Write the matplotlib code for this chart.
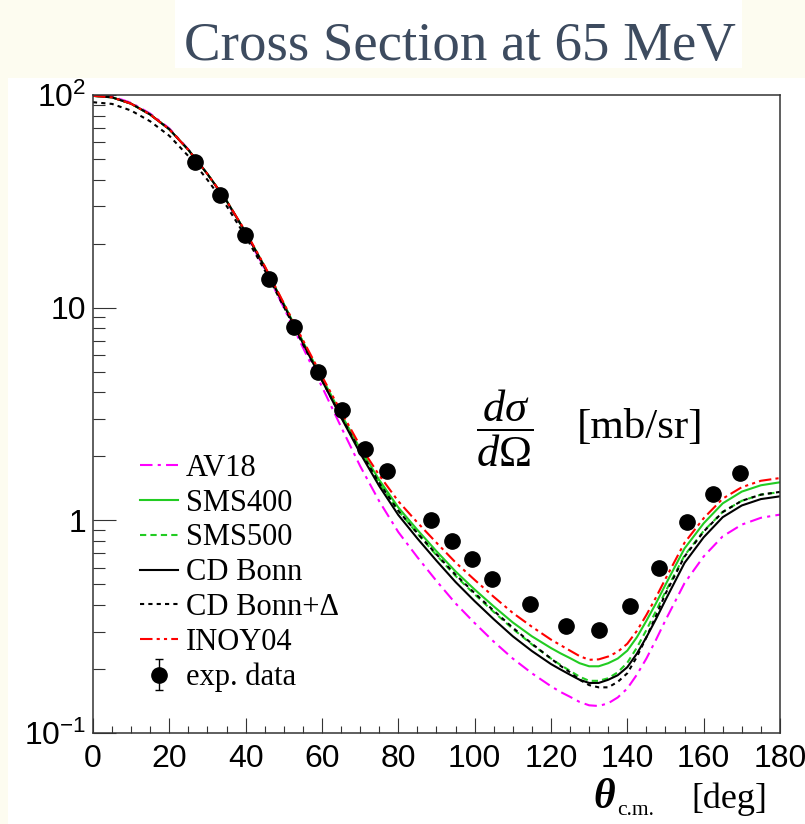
import matplotlib
matplotlib.use('Agg')
import matplotlib.pyplot as plt
from matplotlib.patches import Rectangle
from matplotlib.ticker import FixedLocator, FixedFormatter, MultipleLocator, LogLocator, NullFormatter

plt.rcParams['mathtext.fontset'] = 'custom'
plt.rcParams['mathtext.rm'] = 'Liberation Serif'
plt.rcParams['mathtext.it'] = 'Liberation Serif:italic'
plt.rcParams['mathtext.bf'] = 'Liberation Serif:bold'
plt.rcParams['mathtext.sf'] = 'Liberation Sans'

# theory curves (finer sampling around the minimum)
theta = [0, 5, 10, 15, 20, 25, 30, 35, 40, 45, 50, 55, 60, 65, 70, 75, 80, 85, 90, 95,
         100, 105, 110, 115, 120, 122.5, 125, 127.5, 130, 132.5, 135, 137.5, 140, 142.5,
         145, 147.5, 150, 155, 160, 165, 170, 175, 180]

av18 = [100.0, 98.4, 92.0, 81.8, 69.7, 55.5, 42.5, 31.6, 22.3, 15.2, 10.0, 6.50, 4.25,
        2.75, 1.80, 1.23, 0.881, 0.671, 0.519, 0.407, 0.329, 0.269, 0.224, 0.191,
        0.166, 0.156, 0.148, 0.140, 0.135, 0.134, 0.138, 0.147, 0.162, 0.188, 0.224, 0.274,
        0.339, 0.507, 0.676, 0.841, 0.955, 1.028, 1.064]

sms400 = [99.1, 97.5, 91.0, 80.9, 69.0, 55.2, 42.5, 31.8, 22.6, 15.6, 10.4, 6.93, 4.68,
          3.16, 2.17, 1.55, 1.15, 0.902, 0.716, 0.575, 0.473, 0.394, 0.331, 0.285,
          0.251, 0.237, 0.225, 0.213, 0.206, 0.206, 0.213, 0.224, 0.244, 0.282, 0.337, 0.407,
          0.498, 0.738, 0.968, 1.202, 1.365, 1.462, 1.510]

sms500 = [99.1, 97.5, 91.0, 80.9, 69.0, 55.2, 42.5, 31.8, 22.6, 15.5, 10.4, 6.89, 4.63,
          3.12, 2.13, 1.50, 1.11, 0.867, 0.686, 0.548, 0.449, 0.371, 0.309, 0.261,
          0.224, 0.209, 0.196, 0.184, 0.176, 0.176, 0.181, 0.193, 0.214, 0.252, 0.305, 0.374,
          0.462, 0.684, 0.891, 1.096, 1.236, 1.321, 1.358]

cdbonn = [99.1, 97.5, 91.0, 80.9, 69.0, 55.2, 42.5, 31.8, 22.6, 15.5, 10.3, 6.81, 4.55,
          3.05, 2.07, 1.45, 1.06, 0.822, 0.646, 0.513, 0.417, 0.343, 0.285, 0.243,
          0.211, 0.199, 0.188, 0.178, 0.172, 0.172, 0.178, 0.187, 0.204, 0.236, 0.282, 0.343,
          0.422, 0.631, 0.832, 1.035, 1.175, 1.259, 1.297]

cdbonn_delta = [92.5, 90.8, 84.5, 75.2, 64.3, 51.6, 39.9, 30.1, 21.6, 15.0, 10.1, 6.73, 4.55,
                3.08, 2.12, 1.50, 1.11, 0.871, 0.692, 0.555, 0.455, 0.376, 0.313, 0.263,
                0.224, 0.207, 0.193, 0.178, 0.168, 0.164, 0.164, 0.174, 0.191, 0.228, 0.282, 0.355,
                0.452, 0.676, 0.885, 1.094, 1.236, 1.321, 1.361]

inoy04 = [99.1, 97.5, 91.0, 80.9, 69.0, 55.2, 42.5, 31.8, 22.8, 15.7, 10.5, 7.05, 4.76,
          3.25, 2.24, 1.63, 1.23, 0.977, 0.785, 0.634, 0.525, 0.437, 0.367, 0.316,
          0.275, 0.259, 0.244, 0.230, 0.221, 0.222, 0.229, 0.241, 0.263, 0.302, 0.359, 0.434,
          0.531, 0.785, 1.023, 1.265, 1.432, 1.535, 1.581]

# experimental data
exp_theta = [26.7, 33.3, 39.8, 46.1, 52.7, 58.9, 65.2, 71.3, 77.0, 88.6, 94.1, 99.3,
             104.5, 114.5, 123.9, 132.6, 140.7, 148.3, 155.6, 162.4, 169.5]
exp_xs = [48.3, 33.8, 21.9, 13.6, 8.1, 4.98, 3.30, 2.16, 1.71, 1.00, 0.80, 0.66,
          0.53, 0.405, 0.318, 0.305, 0.395, 0.60, 0.98, 1.33, 1.67]
exp_err = [1.0, 0.7, 0.4, 0.3, 0.16, 0.1, 0.07, 0.04, 0.03, 0.02, 0.016, 0.013,
           0.011, 0.008, 0.006, 0.006, 0.008, 0.012, 0.02, 0.03, 0.03]

fig = plt.figure(figsize=(8.05, 8.24), dpi=100)
fig.patch.set_facecolor('#fdfcf0')
fig.patches.append(Rectangle((0.0099, 0), 0.9901, 0.9053, transform=fig.transFigure,
                             facecolor='white', edgecolor='none', zorder=-10))
fig.patches.append(Rectangle((0.2174, 0.9175), 0.7043, 0.0825, transform=fig.transFigure,
                             facecolor='white', edgecolor='none', zorder=-10))
fig.text(0.571, 0.927, 'Cross Section at 65 MeV', ha='center', va='baseline',
         fontsize=39.5, family='Liberation Serif', color='#3d4b5f')

ax = fig.add_axes([0.1155, 0.1104, 0.8534, 0.7743])
ax.set_facecolor('white')
ax.set_yscale('log')
ax.set_xlim(0, 180)
ax.set_ylim(0.1, 100)

lw = 1.5
ax.plot(theta, av18, color='#ff00ff', lw=lw, dashes=(6, 2.5, 1.5, 2.5), label='AV18')
ax.plot(theta, sms400, color='#22cc22', lw=lw, label='SMS400')
ax.plot(theta, sms500, color='#22cc22', lw=lw, dashes=(3, 2), label='SMS500')
ax.plot(theta, cdbonn, color='black', lw=lw, label='CD Bonn')
ax.plot(theta, cdbonn_delta, color='black', lw=lw, dashes=(2, 2), label='CD Bonn+Δ')
ax.plot(theta, inoy04, color='#ff0000', lw=lw, dashes=(6, 2, 1.5, 2, 1.5, 2), label='INOY04')
ax.errorbar(exp_theta, exp_xs, yerr=exp_err, fmt='o', color='black', ms=11,
            elinewidth=1, capsize=3, label='exp. data', zorder=5)

leg = ax.legend(loc='lower left', bbox_to_anchor=(0.068, 0.064), frameon=False,
                prop={'family': 'Liberation Serif', 'size': 22}, labelspacing=0.19,
                handlelength=1.25, handletextpad=0.25, borderpad=0, borderaxespad=0)

# axes styling, ROOT-like
ax.xaxis.set_major_locator(MultipleLocator(20))
ax.xaxis.set_minor_locator(MultipleLocator(5))
ax.yaxis.set_major_locator(FixedLocator([0.1, 1, 10, 100]))
ax.yaxis.set_major_formatter(FixedFormatter([r'$\mathsf{10^{-1}}$', '1', '10', r'$\mathsf{10^{2}}$']))
ax.yaxis.set_minor_locator(LogLocator(base=10, subs=[2, 3, 4, 5, 6, 7, 8, 9]))
ax.yaxis.set_minor_formatter(NullFormatter())
ax.tick_params(axis='both', which='both', direction='in', top=False, right=False,
               color='#333333', width=0.8, labelsize=23)
ax.tick_params(axis='x', which='major', length=11, pad=8)
ax.tick_params(axis='x', which='minor', length=5)
ax.tick_params(axis='y', which='major', length=16.5, pad=5)
ax.tick_params(axis='y', which='minor', length=8.5)
for lab in ax.get_xticklabels() + ax.get_yticklabels():
    lab.set_family('Liberation Sans')
for sp in ax.spines.values():
    sp.set_linewidth(1.1)
    sp.set_color('#333333')

# x title: theta_c.m. [deg]
fig.text(593 / 805, 1 - 808 / 824, 'θ', ha='left', va='baseline', fontsize=30,
         family='Liberation Serif', style='italic', weight='bold')
fig.text(617 / 805, 1 - 815 / 824, 'c.m.', ha='left', va='baseline', fontsize=15.5,
         family='Liberation Serif')
fig.text(767 / 805, 1 - 808 / 824, '[deg]', ha='right', va='baseline', fontsize=26,
         family='Liberation Serif')

# y title inside the frame
fig.text(0.627, 0.4806, r'$\dfrac{d\sigma}{d\Omega}$', ha='center', va='center', fontsize=32)
fig.text(0.717, 0.4806, '[mb/sr]', ha='left', va='center', fontsize=31, family='Liberation Serif')

fig.savefig('out.png', dpi=100, facecolor=fig.get_facecolor())
